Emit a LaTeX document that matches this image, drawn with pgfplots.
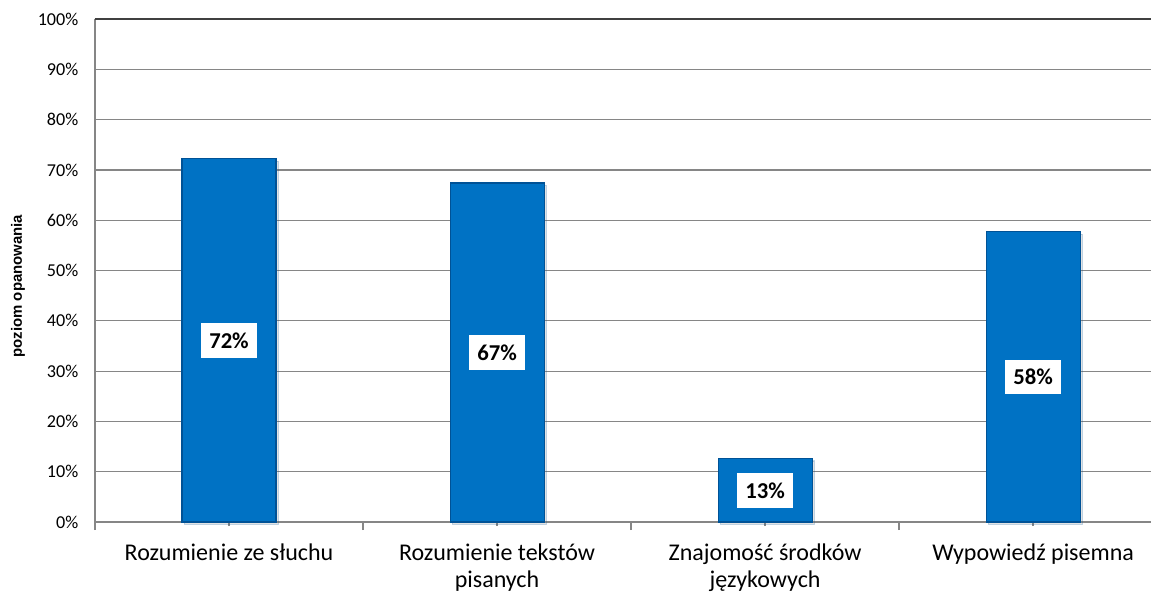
\documentclass[border=0pt]{standalone}
\usepackage{pgfplots}
\usepackage{pgfplotstable}
\pgfplotsset{compat=1.18}
\usepackage{fontspec}
\setmainfont{Carlito}
\newfontfamily\arialf{Liberation Sans}
\usetikzlibrary{shadows}
\definecolor{barblue}{RGB}{0,114,196}
\definecolor{bardark}{RGB}{0,82,150}
\definecolor{gridgray}{RGB}{134,134,134}
\pgfplotstableread{
x y
0 72.2
1 67.4
2 12.6
3 57.7
}\data
\begin{document}
\begin{tikzpicture}
\useasboundingbox (-71.25pt,-54pt) rectangle (792pt,391.5pt);
\begin{axis}[
  scale only axis,
  width=792pt, height=377.25pt,
  xmin=-0.5, xmax=3.44,
  ymin=0, ymax=100,
  axis x line*=bottom, axis y line*=left,
  axis line style={gridgray, line width=0.9pt, -},
  ytick={0,10,...,100},
  yticklabel={\pgfmathparse{int(\tick)}\pgfmathresult\%},
  yticklabel style={font=\fontsize{13.6}{15}\selectfont, black, xshift=-6pt},
  ymajorgrids, major grid style={gridgray, line width=0.9pt},
  ytick style={draw=none},
  xtick={0,1,2,3},
  minor xtick={-0.5,0.5,1.5,2.5},
  xticklabels={Rozumienie ze słuchu, Rozumienie tekstów\\pisanych, Znajomość środków\\językowych, Wypowiedź pisemna},
  xticklabel style={font=\fontsize{18}{20.3}\selectfont, align=center, anchor=north, yshift=-10pt},
  xtick style={gridgray, line width=0.9pt},
  tick align=outside,
  major tick length=3pt, minor tick length=6pt,
  clip=false,
]
\draw[black!75, line width=1pt] (rel axis cs:0,1) -- (rel axis cs:1,1);
\addplot[ybar, bar width=70.5pt, fill=barblue, draw=bardark, line width=0.8pt,
  drop shadow={opacity=0.22, shadow xshift=1.8pt, shadow yshift=-1.8pt}]
  table[x=x, y=y] {\data};
\addplot[draw=none, mark=none, point meta=\thisrow{y},
  nodes near coords={\pgfmathprintnumber[fixed,precision=0,assume math mode=true]{\pgfplotspointmeta}\%},
  every node near coord/.append style={font=\bfseries\fontsize{17}{18}\selectfont, fill=white, text=black,
     inner xsep=6pt, minimum height=26pt, anchor=center},
] table[x=x, y expr=\thisrow{y}/2] {\data};
\node[rotate=90, font=\arialf\bfseries\fontsize{11.2}{13}\selectfont] at ([xshift=-57.75pt]rel axis cs:0,0.469) {poziom opanowania};
\end{axis}
\end{tikzpicture}
\end{document}
